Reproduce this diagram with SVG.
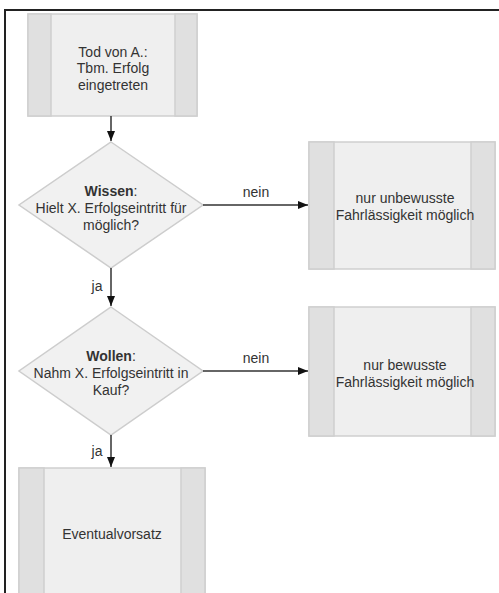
<svg xmlns="http://www.w3.org/2000/svg" width="499" height="593" viewBox="0 0 499 593">
<defs>
<style>
.box{fill:#efefef;stroke:#cfcfcf;stroke-width:1.5}
.bar{fill:#e0e0e0;stroke:#cfcfcf;stroke-width:1.5}
.dia{fill:#f1f1f1;stroke:#cdcdcd;stroke-width:1.5}
text{font-family:"Liberation Sans",Arial,sans-serif;font-size:14px;fill:#333;text-anchor:middle}
.b{font-weight:bold}
.edge{stroke:#333;stroke-width:1.5;fill:none}
</style>
<marker id="arr" markerWidth="10" markerHeight="8" refX="10" refY="4" orient="auto" markerUnits="userSpaceOnUse">
<path d="M0,0 L10,4 L0,8 Z" fill="#111"/>
</marker>
</defs>
<rect width="499" height="593" fill="#fff"/>
<path d="M5,593 V10 H499" fill="none" stroke="#222" stroke-width="2"/>
<g id="n1">
<rect class="box" x="28" y="14" width="169" height="102"/>
<rect class="bar" x="28" y="14" width="23" height="102"/>
<rect class="bar" x="175" y="14" width="22" height="102"/>
<text x="113" y="56.5">Tod von A.:</text>
<text x="113" y="73">Tbm. Erfolg</text>
<text x="113" y="89.5">eingetreten</text>
</g>
<g id="d1">
<polygon class="dia" points="111,142 203,205 111,268 19,205"/>
<text x="111" y="196"><tspan class="b">Wissen</tspan>:</text>
<text x="111" y="213">Hielt X. Erfolgseintritt für</text>
<text x="111" y="229.5">möglich?</text>
</g>
<g id="n2">
<rect class="box" x="309" y="142" width="186" height="127"/>
<rect class="bar" x="309" y="142" width="25" height="127"/>
<rect class="bar" x="471" y="142" width="24" height="127"/>
<text x="405" y="203">nur unbewusste</text>
<text x="405" y="220">Fahrlässigkeit möglich</text>
</g>
<g id="d2">
<polygon class="dia" points="111,307 203,371 111,435 19,371"/>
<text x="111" y="361"><tspan class="b">Wollen</tspan>:</text>
<text x="111" y="378">Nahm X. Erfolgseintritt in</text>
<text x="111" y="394.5">Kauf?</text>
</g>
<g id="n3">
<rect class="box" x="309" y="307" width="186" height="129"/>
<rect class="bar" x="309" y="307" width="25" height="129"/>
<rect class="bar" x="471" y="307" width="24" height="129"/>
<text x="405" y="370">nur bewusste</text>
<text x="405" y="386.5">Fahrlässigkeit möglich</text>
</g>
<g id="n4">
<rect class="box" x="19" y="468" width="186" height="140"/>
<rect class="bar" x="19" y="468" width="25" height="140"/>
<rect class="bar" x="181" y="468" width="24" height="140"/>
<text x="112" y="539">Eventualvorsatz</text>
</g>
<g id="edges">
<line class="edge" x1="111" y1="116" x2="111" y2="141" marker-end="url(#arr)"/>
<line class="edge" x1="203" y1="205" x2="308" y2="205" marker-end="url(#arr)"/>
<text x="256" y="197">nein</text>
<line class="edge" x1="111" y1="268" x2="111" y2="306" marker-end="url(#arr)"/>
<text x="97" y="291">ja</text>
<line class="edge" x1="203" y1="371" x2="308" y2="371" marker-end="url(#arr)"/>
<text x="256" y="363">nein</text>
<line class="edge" x1="111" y1="435" x2="111" y2="467" marker-end="url(#arr)"/>
<text x="97" y="456">ja</text>
</g>
</svg>
